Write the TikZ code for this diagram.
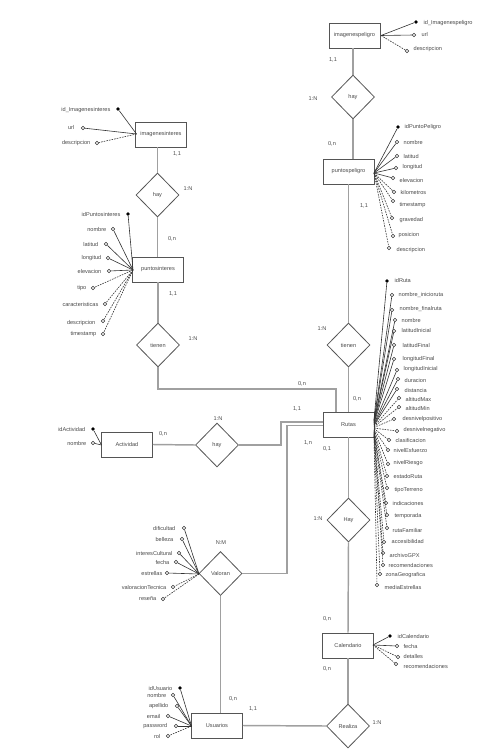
\documentclass[tikz,border=0pt]{standalone}
\usepackage{fontspec}
\setmainfont{Liberation Sans}
\usetikzlibrary{shapes.geometric}
\definecolor{connc}{HTML}{A0A0A0}
\definecolor{edgec}{HTML}{555555}
\definecolor{txtc}{HTML}{4A4A4A}
\definecolor{alinec}{HTML}{333333}
\begin{document}
\begin{tikzpicture}[x=0.75pt,y=-0.75pt,
 ent/.style={draw=edgec,line width=0.7pt,minimum width=38.25pt,minimum height=18.75pt,inner sep=0pt,font=\fontsize{4.2}{5}\selectfont,text=txtc},
 rel/.style={diamond,draw=edgec,line width=0.6pt,minimum width=32.25pt,minimum height=33pt,inner sep=0pt,font=\fontsize{4.2}{5}\selectfont,text=txtc},
 conn/.style={draw=connc,line width=1.1pt},
 aline/.style={draw=alinec,line width=0.45pt},
 adash/.style={dash pattern=on 1.2pt off 0.8pt},
 ckey/.style={circle,fill=black,inner sep=0pt,minimum size=2.8pt},
 copen/.style={circle,draw=alinec,fill=white,line width=0.4pt,inner sep=0pt,minimum size=2.6pt},
 lab/.style={font=\fontsize{4.2}{5}\selectfont,text=txtc,inner sep=0.3pt}]
\useasboundingbox (0,0) rectangle (495,752);
\fill[white] (0,0) rectangle (495,752);

% entities and relations
\node[ent] (imgp) at (354.5,35.5) {imagenespeligro};
\node[rel] (hay1) at (353,97) {hay};
\node[ent] (pp) at (348.5,171.5) {puntospeligro};
\node[rel] (ten1) at (348.5,345) {tienen};
\node[ent] (rutas) at (348.5,424.5) {Rutas};
\node[ent] (imgi) at (161,134.5) {imagenesinteres};
\node[rel] (hay2) at (157.5,195) {hay};
\node[ent] (pi) at (158,269.5) {puntosinteres};
\node[rel] (ten2) at (158,345) {tienen};
\node[ent] (act) at (127,444.5) {Actividad};
\node[rel] (hay3) at (217,445) {hay};
\node[rel] (hay4) at (348.5,520) {Hay};
\node[ent] (cal) at (348,645.5) {Calendario};
\node[rel] (real) at (348,726) {Realiza};
\node[ent] (usu) at (217,725.5) {Usuarios};
\node[rel] (val) at (220.5,573.5) {Valoran};

% connectors
\draw[conn] (hay1.north) -- (hay1.north |- imgp.south);
\draw[conn] (hay1.south) -- (hay1.south |- pp.north);
\draw[conn] (pp.south) -- (ten1.north);
\draw[conn] (ten1.south) -- (rutas.north);
\draw[conn] (hay2.north) -- (hay2.north |- imgi.south);
\draw[conn] (hay2.south) -- (hay2.south |- pi.north);
\draw[conn] (pi.south) -- (ten2.north);
\coordinate (k1) at (158,389);
\coordinate (k2) at (336,389);
\draw[conn] (ten2.south) -- (k1) -- (k2) -- (k2 |- rutas.north);
\draw[conn] (act.east) -- (hay3.west);
\coordinate (k3) at (281,422);
\draw[conn] (hay3.east) -| (k3) -- (k3 -| rutas.west);
\coordinate (k4) at (287,425.5);
\draw[conn] (val.east) -| (k4) -- (k4 -| rutas.west);
\draw[conn] (rutas.south) -- (hay4.north);
\draw[conn] (hay4.south) -- (cal.north);
\draw[conn] (cal.south) -- (real.north);
\draw[conn] (usu.east) -- (real.west);
\draw[conn] (val.south) -- (val.south |- usu.north);

% cardinalities
\node[lab] (c1) at (333,60) {1,1};
\node[lab] (c2) at (313,99) {1:N};
\node[lab] (c3) at (332,144) {0,n};
\node[lab] (c4) at (364,206) {1,1};
\node[lab] (c5) at (322,329) {1:N};
\node[lab] (c6) at (357,399) {0,n};
\node[lab] (c7) at (177,154) {1,1};
\node[lab] (c8) at (188,189) {1:N};
\node[lab] (c9) at (172,239) {0,n};
\node[lab] (c10) at (173,294) {1,1};
\node[lab] (c11) at (193,339) {1:N};
\node[lab] (c12) at (302,384) {0,n};
\node[lab] (c13) at (163,434) {0,n};
\node[lab] (c14) at (218,419) {1:N};
\node[lab] (c15) at (297,409) {1,1};
\node[lab] (c16) at (308,443) {1,n};
\node[lab] (c17) at (327,449) {0,1};
\node[lab] (c18) at (318,519) {1:N};
\node[lab] (c19) at (327,619) {0,n};
\node[lab] (c20) at (327,669) {0,n};
\node[lab] (c21) at (377,723) {1:N};
\node[lab] (c22) at (253,709) {1,1};
\node[lab] (c23) at (233,699) {0,n};
\node[lab] (c24) at (221,543) {N:M};

% attributes: imagenespeligro
\coordinate (oimgp) at (381,35.5);
\foreach \x/\y/\tx/\ty/\lab/\cs/\ls [count=\i] in {
416/22/423/23/id\_Imagenespeligro/ckey/solid,
414/35/421/35/url/copen/solid,
407/51/413/49/descripcion/copen/adash}{
 \node[\cs] (aipc\i) at (\x,\y) {};
 \draw[aline,\ls] (oimgp) -- (aipc\i);
 \node[lab,anchor=west] (aipt\i) at (\tx,\ty) {\lab};
}

% attributes: puntospeligro
\coordinate (opp) at (374,173);
\foreach \x/\y/\tx/\ty/\lab/\cs/\ls [count=\i] in {
398/127/404/127/idPuntoPeligro/ckey/solid,
397/142/403/142/nombre/copen/solid,
397/156/403/156/latitud/copen/solid,
396/168/402/167/longitud/copen/solid,
393/178/399/180/elevacion/copen/solid,
394/192/400/192/kilometros/copen/adash,
393/201/399/205/timestamp/copen/adash,
392/218/399/220/gravedad/copen/adash,
393/236/398/235/posicion/copen/adash,
389/248/396/250/descripcion/copen/adash}{
 \node[\cs] (appc\i) at (\x,\y) {};
 \draw[aline,\ls] (opp) -- (appc\i);
 \node[lab,anchor=west] (appt\i) at (\tx,\ty) {\lab};
}

% attributes: imagenesinteres
\coordinate (oimgi) at (136.5,134);
\foreach \x/\y/\tx/\ty/\lab/\cs/\ls [count=\i] in {
118/109/111/110/id\_Imagenesinteres/ckey/solid,
83/128/75/128/url/copen/solid,
97/143/91/143/descripcion/copen/adash}{
 \node[\cs] (aiic\i) at (\x,\y) {};
 \draw[aline,\ls] (oimgi) -- (aiic\i);
 \node[lab,anchor=east] (aiit\i) at (\tx,\ty) {\lab};
}

% attributes: puntosinteres
\coordinate (opi) at (133,270);
\foreach \x/\y/\tx/\ty/\lab/\cs/\ls [count=\i] in {
128/214/121/214/idPuntosinteres/ckey/solid,
113/229/107/229/nombre/copen/solid,
106/244/99/244/latitud/copen/solid,
108/258/102/258/longitud/copen/solid,
109/271/102/271/elevacion/copen/solid,
93/288/87/288/tipo/copen/adash,
105/304/99/304/caracteristicas/copen/adash,
103/321/96/323/descripcion/copen/adash,
103/334/97/334/timestamp/copen/adash}{
 \node[\cs] (apic\i) at (\x,\y) {};
 \draw[aline,\ls] (opi) -- (apic\i);
 \node[lab,anchor=east] (apit\i) at (\tx,\ty) {\lab};
}

% attributes: Actividad
\coordinate (oact) at (101.5,445);
\foreach \x/\y/\tx/\ty/\lab/\cs/\ls [count=\i] in {
93/429/86/429/idActividad/ckey/solid,
93/443/87/443/nombre/copen/solid}{
 \node[\cs] (aacc\i) at (\x,\y) {};
 \draw[aline,\ls] (oact) -- (aacc\i);
 \node[lab,anchor=east] (aact\i) at (\tx,\ty) {\lab};
}

% attributes: Valoran
\coordinate (oval) at (199,574);
\foreach \x/\y/\tx/\ty/\lab/\cs/\ls [count=\i] in {
184/528/176/528/dificultad/copen/solid,
182/539/174/539/belleza/copen/solid,
179/553/173/553/interesCultural/copen/solid,
176/562/170/562/fecha/copen/solid,
167/573/163/573/estrellas/copen/solid,
173/587/167/587/valoracionTecnica/copen/adash,
163/599/157/599/reseña/copen/adash}{
 \node[\cs] (avac\i) at (\x,\y) {};
 \draw[aline,\ls] (oval) -- (avac\i);
 \node[lab,anchor=east] (avat\i) at (\tx,\ty) {\lab};
}

% attributes: Usuarios
\coordinate (ousu) at (191.5,726);
\foreach \x/\y/\tx/\ty/\lab/\cs/\ls [count=\i] in {
180/688/173/688/idUsuario/ckey/solid,
173/695/167/695/nombre/copen/solid,
177/706/169/706/apellido/copen/solid,
168/716/161/716/email/copen/solid,
176/726/168/726/password/copen/solid,
168/736/161/736/rol/copen/adash}{
 \node[\cs] (auuc\i) at (\x,\y) {};
 \draw[aline,\ls] (ousu) -- (auuc\i);
 \node[lab,anchor=east] (auut\i) at (\tx,\ty) {\lab};
}

% attributes: Calendario
\coordinate (ocal) at (373,645);
\foreach \x/\y/\tx/\ty/\lab/\cs/\ls [count=\i] in {
390/636/397/636/idCalendario/ckey/solid,
397/646/403/646/fecha/copen/solid,
398/657/403/656/detalles/copen/adash,
396/664/403/666/recomendaciones/copen/adash}{
 \node[\cs] (acac\i) at (\x,\y) {};
 \draw[aline,\ls] (ocal) -- (acac\i);
 \node[lab,anchor=west] (acat\i) at (\tx,\ty) {\lab};
}

% attributes: Rutas
\foreach \x/\y/\tx/\ty/\lab/\cs/\ls [count=\i] in {
387/281/394/280/idRuta/ckey/solid,
392/295/398/295/nombre\_inicioruta/copen/solid,
392/310/399/309/nombre\_finalruta/copen/solid,
395/320/401/320/nombre/copen/solid,
394/331/401/330/latitudInicial/copen/solid,
394/345/402/345/latitudFinal/copen/solid,
394/359/402/359/longitudFinal/copen/solid,
397/370/403/369/longitudInicial/copen/solid,
398/379/404/380/duracion/copen/solid,
397/389/404/390/distancia/copen/solid,
399/398/405/399/altitudMax/copen/adash,
399/407/405/408/altitudMin/copen/adash,
394/419/402/419/desnivelpositivo/copen/adash,
397/431/403/430/desnivelnegativo/copen/adash,
389/440/395/440/clasificacion/copen/adash,
388/450/393/450/nivelEsfuerzo/copen/adash,
388/464/393/463/nivelRiesgo/copen/adash,
387/476/393/476/estadoRuta/copen/adash,
387/488/394/490/tipoTerreno/copen/adash,
386/503/392/503/indicaciones/copen/adash,
387/515/394/516/temporada/copen/adash,
387/528/392/530/rutaFamiliar/copen/adash,
384/542/391/541/accesibilidad/copen/adash,
383/553/389/555/archivoGPX/copen/adash,
383/565/388/565/recomendaciones/copen/adash,
380/574/385/575/zonaGeografica/copen/adash,
377/585/384/587/mediaEstrellas/copen/adash}{
 \coordinate (aro\i) at (374,{419+0.65*\i});
 \node[\cs] (arc\i) at (\x,\y) {};
 \draw[aline,\ls] (aro\i) -- (arc\i);
 \node[lab,anchor=west] (art\i) at (\tx,\ty) {\lab};
}
\end{tikzpicture}
\end{document}
